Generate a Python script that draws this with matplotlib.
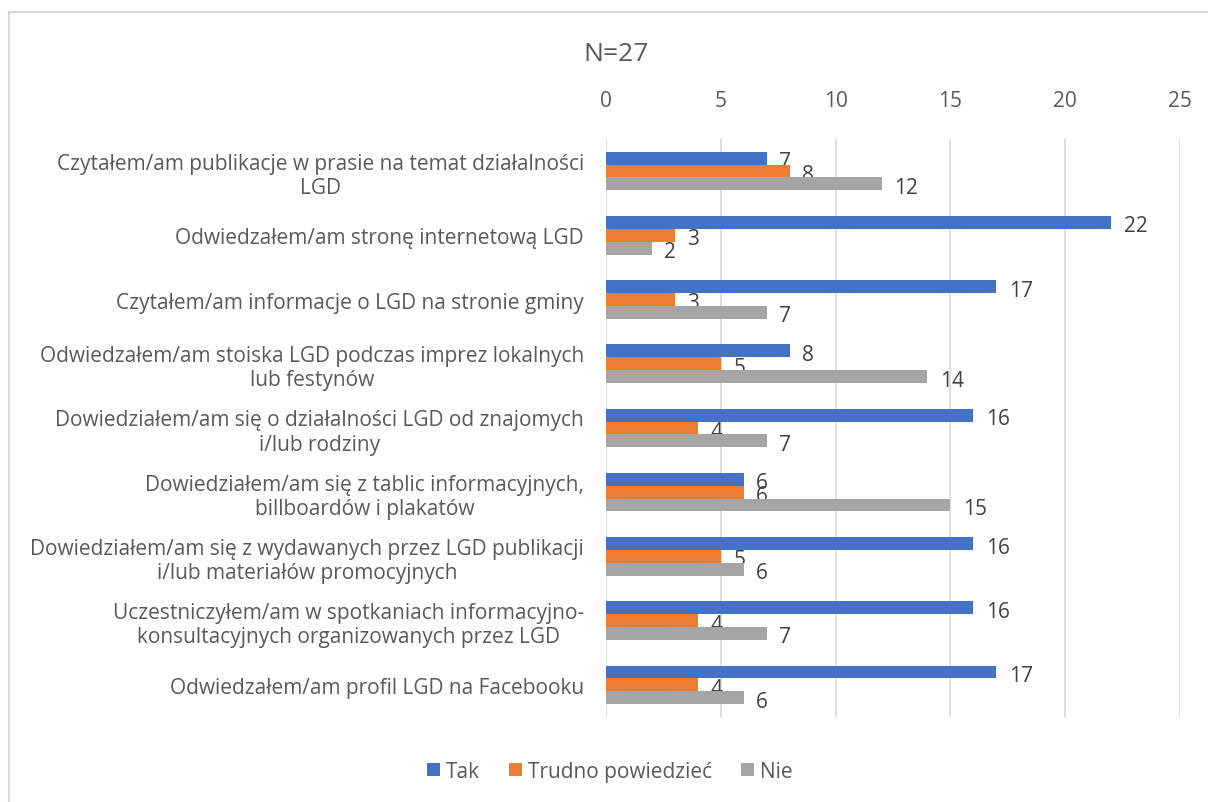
import matplotlib.pyplot as plt
import numpy as np
from matplotlib.patches import Rectangle

categories = [
    "Czytałem/am publikacje w prasie na temat działalności\nLGD",
    "Odwiedzałem/am stronę internetową LGD",
    "Czytałem/am informacje o LGD na stronie gminy",
    "Odwiedzałem/am stoiska LGD podczas imprez lokalnych\nlub festynów",
    "Dowiedziałem/am się o działalności LGD od znajomych\ni/lub rodziny",
    "Dowiedziałem/am się z tablic informacyjnych,\nbillboardów i plakatów",
    "Dowiedziałem/am się z wydawanych przez LGD publikacji\ni/lub materiałów promocyjnych",
    "Uczestniczyłem/am w spotkaniach informacyjno-\nkonsultacyjnych organizowanych przez LGD",
    "Odwiedzałem/am profil LGD na Facebooku",
]
tak = [7, 22, 17, 8, 16, 6, 16, 16, 17]
trudno = [8, 3, 3, 5, 4, 6, 5, 4, 4]
nie = [12, 2, 7, 14, 7, 15, 6, 7, 6]
series_names = ["Tak", "Trudno powiedzieć", "Nie"]
colors = ["#4472C4", "#ED7D31", "#A5A5A5"]
xticks = [0, 5, 10, 15, 20, 25]

text_color = "#595959"
grid_color = "#D9D9D9"
plt.rcParams["font.family"] = ["Open Sans", "DejaVu Sans"]

fig = plt.figure(figsize=(12.08, 8.03), dpi=100)
ax = fig.add_axes([0.5017, 0.1059, 0.4751, 0.7198])

y = np.arange(len(categories))
h = 0.2
for i, (vals, name, col) in enumerate(zip([tak, trudno, nie], series_names, colors)):
    pos = y + (i - 1) * h
    ax.barh(pos, vals, height=h, color=col, label=name, zorder=3)
    for p, v in zip(pos, vals):
        ax.annotate(str(v), (v, p), xytext=(9, -2.5), textcoords="offset points",
                    ha="left", va="center", fontsize=15, color="#404040")

ax.set_ylim(len(categories) - 0.5, -0.5)
ax.set_xlim(0, 25)
ax.set_xticks(xticks)
ax.xaxis.tick_top()
ax.tick_params(axis="x", length=0, pad=20, labelsize=15, labelcolor=text_color)
ax.set_yticks(y)
ax.set_yticklabels(categories, fontsize=15, color=text_color, multialignment="center")
ax.tick_params(axis="y", length=0, pad=16)
ax.grid(axis="x", color=grid_color, linewidth=1.2, zorder=0)
for s in ax.spines.values():
    s.set_visible(False)

fig.text(0.51, 0.932, "N=27", ha="center", va="center", fontsize=19, color=text_color)

fig.legend(loc="center", bbox_to_anchor=(0.505, 0.038), ncol=3, frameon=False,
           fontsize=15, labelcolor=text_color, handlelength=0.6, handleheight=0.6,
           handletextpad=0.3, columnspacing=1.4)

# light outer chart frame (cropped at right and bottom)
fig.patches.append(Rectangle((0.0075, -0.01), 1.1, 0.994, transform=fig.transFigure,
                             fill=False, edgecolor=grid_color, linewidth=1.5))

fig.savefig("out.png", dpi=100)
